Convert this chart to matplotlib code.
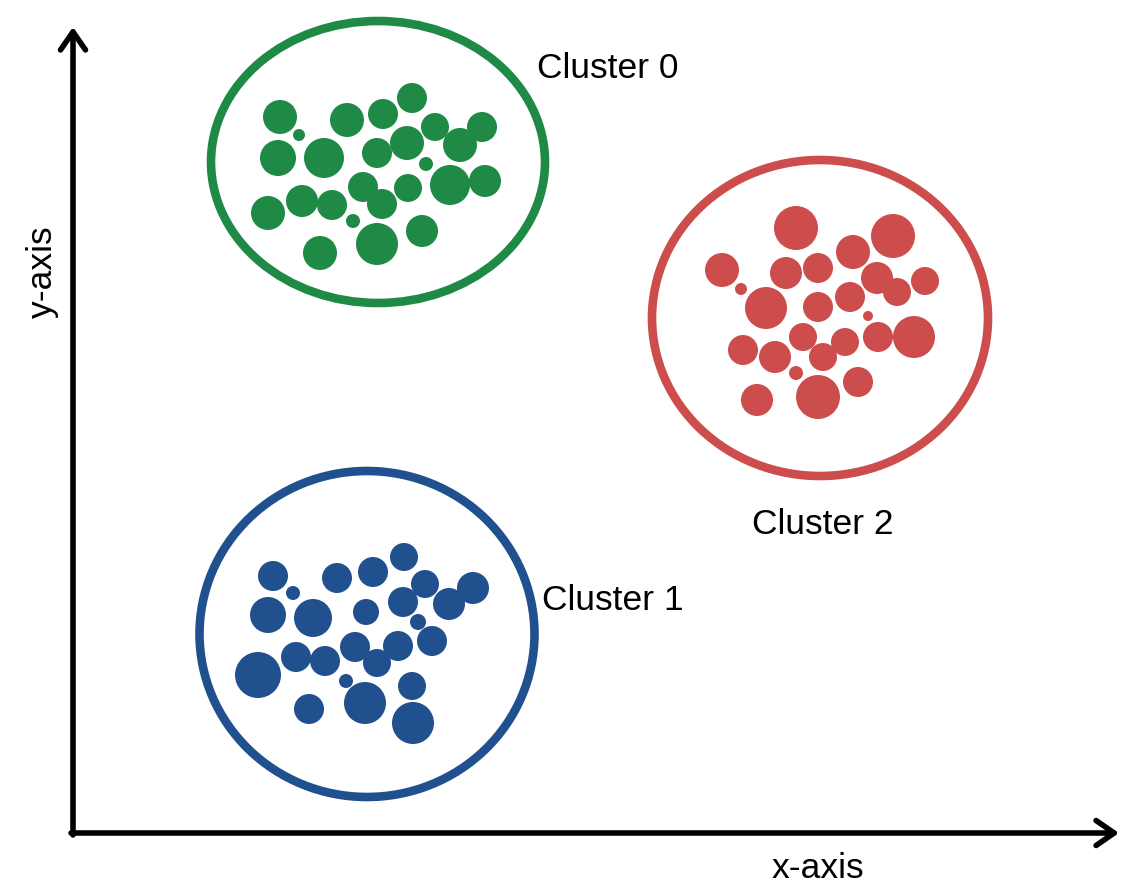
import matplotlib
matplotlib.use("Agg")
import matplotlib.pyplot as plt
from matplotlib.patches import Circle, Ellipse

plt.rcParams['font.family'] = ['Liberation Sans', 'DejaVu Sans']

# ---- data (pixel-like coordinates of the diagram) ----
green_x = [280, 299, 347, 383, 412, 278, 324, 377, 407, 435, 482, 460, 426, 450, 485,
           408, 363, 382, 353, 332, 302, 268, 320, 377, 422]
green_y = [117, 135, 120, 114, 98, 158, 158, 153, 143, 127, 127, 145, 164, 185, 181,
           188, 187, 204, 221, 205, 201, 213, 253, 244, 231]
green_r = [17, 6, 17, 15, 15, 18, 20, 15, 17, 14, 15, 17, 7, 20, 16,
           14, 15, 15, 7, 15, 16, 17, 17, 21, 16]

red_x = [796, 893, 853, 722, 786, 818, 877, 897, 925, 741, 766, 818, 850, 868, 743,
         775, 803, 823, 845, 878, 914, 796, 858, 757, 818]
red_y = [228, 236, 252, 270, 273, 268, 278, 292, 281, 289, 308, 307, 297, 316, 350,
         357, 337, 357, 342, 337, 337, 373, 382, 400, 397]
red_r = [22, 22, 17, 17, 16, 15, 16, 14, 14, 6, 21, 15, 15, 5, 15,
         16, 14, 14, 14, 15, 21, 7, 15, 16, 22]

blue_x = [273, 293, 337, 373, 404, 268, 313, 366, 403, 425, 449, 473, 418, 432, 398,
          355, 377, 325, 296, 258, 346, 309, 365, 412, 413]
blue_y = [576, 593, 578, 572, 557, 615, 618, 612, 602, 584, 604, 588, 622, 641, 646,
          647, 663, 661, 657, 675, 681, 709, 703, 686, 723]
blue_r = [15, 7, 15, 15, 14, 18, 19, 13, 15, 14, 16, 16, 8, 15, 15,
          15, 14, 15, 15, 23, 7, 15, 21, 14, 21]

# enclosing rings: center x, center y, width, height
ring_cx = [378, 367, 820]
ring_cy = [162, 634, 318]
ring_w = [334, 335, 336]
ring_h = [282, 326, 316]

cluster_labels = ["Cluster 0", "Cluster 1", "Cluster 2"]
label_x = [537, 542, 752]
label_y = [68, 600, 524]

colors = ["#1f8a45", "#21508f", "#cc4d4b"]

fig = plt.figure(figsize=(11.23, 8.90), dpi=100)
ax = fig.add_axes([0, 0, 1, 1])
ax.set_xlim(0, 1123)
ax.set_ylim(890, 0)
ax.axis('off')

clusters = [(green_x, green_y, green_r), (blue_x, blue_y, blue_r), (red_x, red_y, red_r)]
for i, (xs, ys, rs) in enumerate(clusters):
    for x, y, r in zip(xs, ys, rs):
        ax.add_patch(Circle((x, y), r, facecolor=colors[i], edgecolor='none'))
    ax.add_patch(Ellipse((ring_cx[i], ring_cy[i]), ring_w[i], ring_h[i],
                         facecolor='none', edgecolor=colors[i], linewidth=6.2))
    ax.text(label_x[i], label_y[i], cluster_labels[i], fontsize=25.5,
            ha='left', va='center', color='black')

# axes arrows
arrow_kw = dict(arrowstyle='->,head_length=1.3,head_width=0.9', lw=4, color='black',
                shrinkA=0, shrinkB=0)
ax.annotate('', xy=(73, 27), xytext=(73, 835), arrowprops=arrow_kw)
ax.annotate('', xy=(1119, 833), xytext=(71, 833), arrowprops=arrow_kw)

ax.text(818, 868, "x-axis", fontsize=25.5, ha='center', va='center', color='black')
ax.text(42, 272, "y-axis", fontsize=25.5, ha='center', va='center', rotation=90,
        color='black')

fig.savefig("out.png", dpi=100)
